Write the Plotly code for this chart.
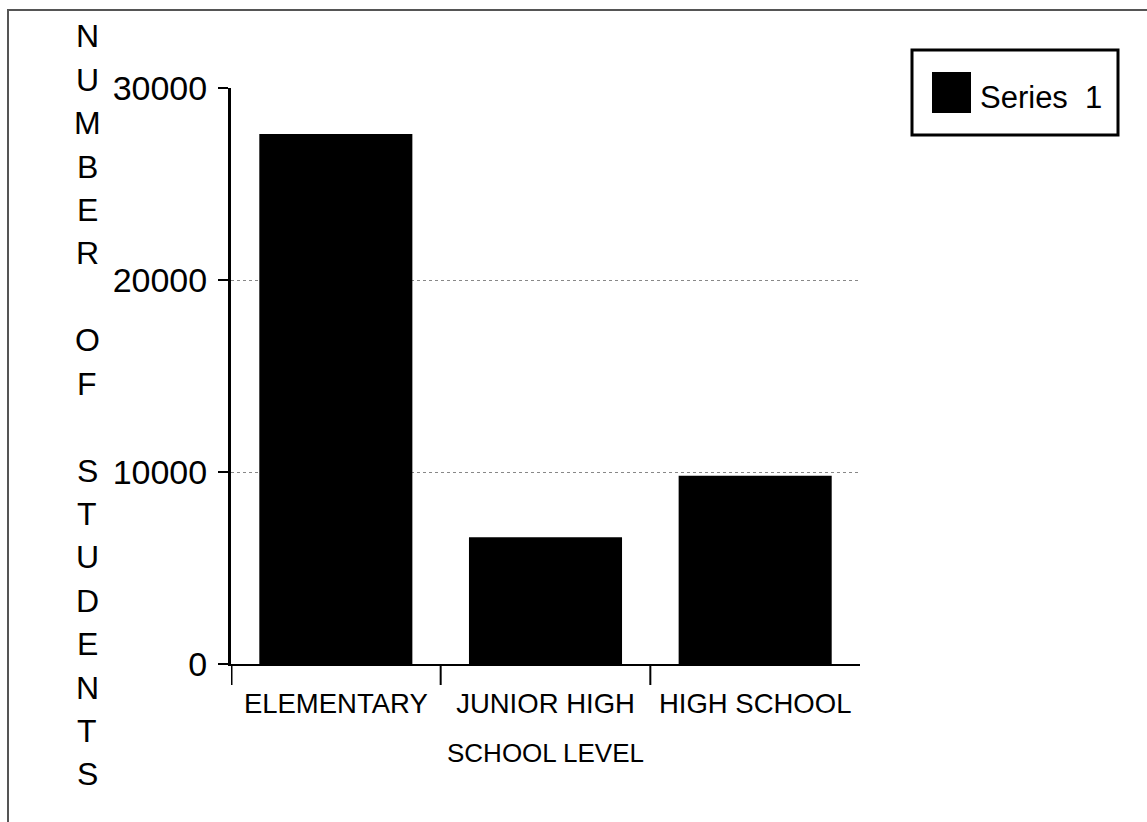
import plotly.graph_objects as go

categories = ["ELEMENTARY", "JUNIOR HIGH", "HIGH SCHOOL"]
series_1 = [27600, 6600, 9800]
y_ticks = [0, 10000, 20000, 30000]
series_name = "Series\u00a0\u00a01"
y_title = "NUMBER OF STUDENTS"
x_title = "SCHOOL LEVEL"

W, H = 1147, 822
L, R, T, B = 231, 860, 88, 664
PW, PH = R - L, B - T

def xp(px):
    return (px - L) / PW

def yp(py):
    return (B - py) / PH

BASE = "Liberation Sans, Arial, sans-serif"

fig = go.Figure()
fig.add_trace(go.Bar(x=categories, y=series_1, name="Series 1",
                     marker=dict(color="black", line=dict(width=0)),
                     showlegend=False))

shapes = []
annotations = []

# category boundary ticks below the x axis
for i in range(len(categories)):
    shapes.append(dict(type="line", xref="x", yref="paper",
                       x0=i - 0.5, x1=i - 0.5, y0=0, y1=yp(685),
                       line=dict(color="black", width=3 if i == 0 else 2)))

# outer page frame (left & top)
shapes.append(dict(type="line", xref="paper", yref="paper",
                   x0=xp(8), x1=xp(8), y0=yp(10), y1=yp(830),
                   line=dict(color="#555", width=2)))
shapes.append(dict(type="line", xref="paper", yref="paper",
                   x0=xp(7), x1=xp(1160), y0=yp(10), y1=yp(10),
                   line=dict(color="#555", width=2)))

# legend box
shapes.append(dict(type="rect", xref="paper", yref="paper",
                   x0=xp(912), x1=xp(1118), y0=yp(50), y1=yp(135),
                   line=dict(color="black", width=3), fillcolor="white"))
shapes.append(dict(type="rect", xref="paper", yref="paper",
                   x0=xp(932), x1=xp(971), y0=yp(72), y1=yp(113),
                   line=dict(color="black", width=0), fillcolor="black"))
annotations.append(dict(text=series_name, xref="paper", yref="paper",
                        x=xp(978), y=yp(97), xanchor="left", yanchor="middle",
                        showarrow=False,
                        font=dict(family=BASE, size=31, color="black")))

# vertical stacked y-axis title
for k, ch in enumerate(y_title):
    if ch == " ":
        continue
    py = 36.5 + k * 43.4
    annotations.append(dict(text=ch, xref="paper", yref="paper",
                            x=xp(87), y=yp(py), xanchor="center", yanchor="middle",
                            showarrow=False,
                            font=dict(family=BASE, size=32, color="black")))

fig.update_layout(
    width=W, height=H,
    margin=dict(l=L, r=W - R, t=T, b=H - B, autoexpand=False),
    paper_bgcolor="white", plot_bgcolor="white",
    bargap=0.27,
    shapes=shapes, annotations=annotations,
    showlegend=False,
    xaxis=dict(
        type="category", range=[-0.5, len(categories) - 0.5],
        showline=True, linecolor="black", linewidth=2,
        ticks="", showgrid=False, tickangle=0,
        tickfont=dict(family=BASE, size=27.5, color="black"),
        ticklabelstandoff=14,
        title=dict(text=x_title, standoff=26,
                   font=dict(family=BASE, size=26, color="black")),
        automargin=False,
    ),
    yaxis=dict(
        range=[0, 30000], tickvals=y_ticks,
        ticktext=[str(v) for v in y_ticks],
        showline=True, linecolor="black", linewidth=3,
        ticks="outside", ticklen=10, tickwidth=2, tickcolor="black",
        showgrid=True, gridcolor="#888", gridwidth=1, griddash="dot",
        zeroline=False,
        tickfont=dict(family=BASE, size=34, color="black"),
        ticklabelstandoff=4,
        automargin=False,
    ),
)

fig.write_html("out.html", config={"displayModeBar": False},
               post_script="document.body.style.margin='0';document.body.style.overflow='hidden';")
